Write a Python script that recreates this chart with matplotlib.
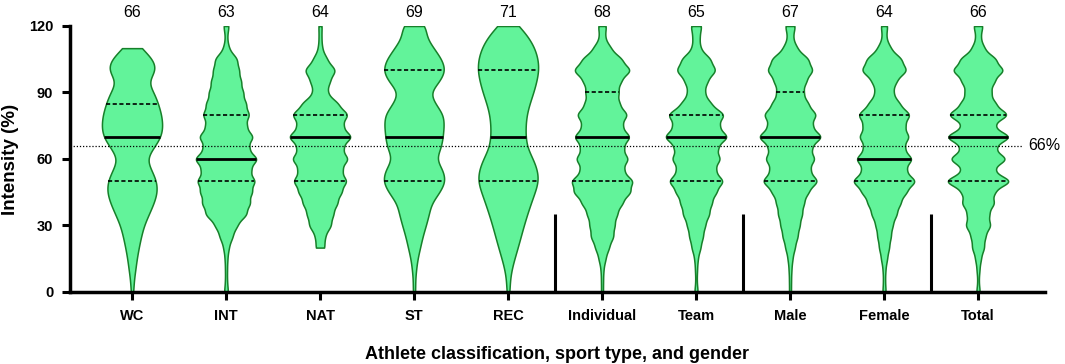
import numpy as np
import matplotlib
matplotlib.use("Agg")
import matplotlib.pyplot as plt
from matplotlib import cbook
from matplotlib.mlab import GaussianKDE

plt.rcParams['font.family'] = ['Liberation Sans', 'DejaVu Sans']

# categories, group means (printed on top), quartiles
groups = ["WC", "INT", "NAT", "ST", "REC", "Individual", "Team", "Male", "Female", "Total"]
means = [66, 63, 64, 69, 71, 68, 65, 67, 64, 66]
q1 = [50, 50, 50, 50, 50, 50, 50, 50, 50, 50]
medians = [70, 60, 70, 70, 70, 70, 70, 70, 60, 70]
q3 = [85, 80, 80, 100, 100, 90, 80, 90, 80, 80]
overall = 66

# intensity levels (%) and estimated number of answers per level
levels = np.arange(0, 125, 5)
wc = [4, 5, 10, 14, 20, 27, 35, 50, 65, 76, 74, 58, 40, 64, 88, 92, 88, 78, 66, 42, 76, 64, 28, 0, 0]
int_ = [6, 3, 3, 4, 8, 19, 32, 60, 70, 75, 85, 70, 93, 64, 80, 58, 68, 58, 50, 44, 38, 33, 8, 3, 8]
nat = [0, 0, 0, 0, 13, 14, 32, 38, 50, 62, 78, 62, 82, 64, 93, 64, 82, 52, 20, 28, 46, 20, 6, 4, 5]
st = [4, 3, 6, 10, 18, 25, 35, 44, 50, 76, 94, 86, 62, 80, 85, 88, 88, 62, 44, 76, 94, 82, 58, 35, 37]
rec = [5, 5, 10, 19, 29, 38, 47, 57, 68, 80, 92, 88, 75, 56, 52, 52, 55, 64, 76, 85, 92, 90, 80, 62, 33]
individual = [3, 3, 4, 10, 20, 33, 36, 43, 58, 82, 90, 60, 76, 60, 82, 56, 74, 49, 47, 53, 84, 57, 25, 8, 12]
team = [5, 2, 3, 5, 13, 20, 26, 38, 45, 58, 80, 54, 70, 60, 93, 64, 83, 42, 24, 32, 58, 42, 12, 10, 16]
male = [3, 3, 4, 7, 14, 22, 28, 35, 40, 52, 82, 56, 72, 60, 94, 62, 77, 52, 38, 46, 67, 54, 20, 8, 15]
female = [5, 3, 4, 9, 15, 20, 25, 37, 48, 65, 95, 62, 84, 58, 74, 60, 78, 45, 26, 35, 68, 52, 19, 6, 10]
total = [5, 2, 4, 8, 17, 20, 35, 30, 45, 44, 93, 42, 80, 46, 91, 42, 85, 48, 36, 45, 72, 50, 17, 7, 13]
counts = [wc, int_, nat, st, rec, individual, team, male, female, total]

# kernel width per group, in intensity units
bws = [3.6, 2.5, 2.5, 3.4, 3.8, 2.5, 2.5, 2.5, 2.5, 2.4]
vwidth = 0.64
fill = "#62f39a"
edge = "#17802a"

fig = plt.figure(figsize=(10.65, 3.64), dpi=100)
ax = fig.add_axes([0.0657, 0.198, 0.9153, 0.7306])

for i, c in enumerate(counts):
    data = np.repeat(levels, c).astype(float)
    sd = data.std(ddof=1)

    def kde(X, coords, f=bws[i] / sd):
        return GaussianKDE(X, f).evaluate(coords)

    st_ = cbook.violin_stats(data, kde, points=300)
    parts = ax.violin(st_, positions=[i], widths=vwidth, showmeans=False,
                      showextrema=False, showmedians=False)
    for b in parts['bodies']:
        b.set_facecolor(fill)
        b.set_edgecolor(edge)
        b.set_linewidth(1.1)
        b.set_alpha(1)
    coords = st_[0]['coords']
    vals = st_[0]['vals']
    scale = 0.5 * vwidth / vals.max()
    for q, ls, lw in [(q1[i], (0, (2.5, 1.5)), 1.2), (q3[i], (0, (2.5, 1.5)), 1.2),
                      (medians[i], '-', 2.0)]:
        h = np.interp(q, coords, vals) * scale
        ax.plot([i - h, i + h], [q, q], color='black', lw=lw, ls=ls, zorder=3,
                solid_capstyle='butt', dash_capstyle='butt')
    ax.text(i, 126, str(means[i]), ha='center', va='center', fontsize=11.5, clip_on=False)

# overall mean reference line
ax.plot([-0.66, 9.47], [overall, overall], color='black', lw=0.9, ls=(0, (1, 1.5)),
        zorder=4, clip_on=False)
ax.text(9.53, overall, f"{overall}%", ha='left', va='center', fontsize=11.5)

# separators between classification / sport type / gender / total
for xs in [4.5, 6.5, 8.5]:
    ax.plot([xs, xs], [0, 35], color='black', lw=2.2, solid_capstyle='butt', zorder=2)

ax.set_xlim(-0.66, 9.71)
ax.set_ylim(0, 120)
ax.set_yticks([0, 30, 60, 90, 120])
ax.set_xticks(range(len(groups)))
ax.set_xticklabels(groups)
for s in ['top', 'right']:
    ax.spines[s].set_visible(False)
for s in ['left', 'bottom']:
    ax.spines[s].set_linewidth(2.5)
ax.tick_params(axis='both', width=2.2, length=6, labelsize=10.5)
ax.tick_params(axis='x', pad=6)
ax.tick_params(axis='y', pad=6)
for t in ax.get_xticklabels() + ax.get_yticklabels():
    t.set_fontweight('bold')
ax.set_ylabel("Intensity (%)", fontsize=13.5, fontweight='bold', labelpad=7)
ax.set_xlabel("Athlete classification, sport type, and gender", fontsize=13,
              fontweight='bold', labelpad=17)

fig.savefig("out.png", dpi=100)
